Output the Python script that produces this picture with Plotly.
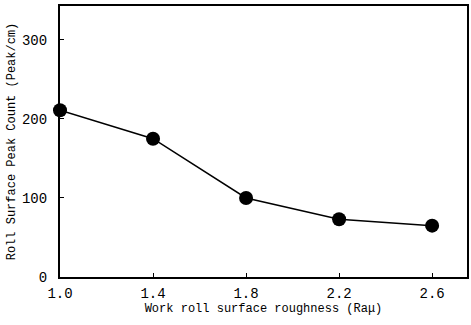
import plotly.graph_objects as go

roughness = [1.0, 1.4, 1.8, 2.2, 2.6]
peak_count = [211, 175, 100, 73, 65]
x_ticks = [1.0, 1.4, 1.8, 2.2, 2.6]
x_tick_labels = ["1.0", "1.4", "1.8", "2.2", "2.6"]
y_ticks = [0, 100, 200, 300]

fig = go.Figure()
fig.add_trace(go.Scatter(
    x=roughness, y=peak_count, mode="lines+markers",
    line=dict(color="black", width=1.5),
    marker=dict(color="black", size=14),
    cliponaxis=False,
))

font = "Liberation Mono, Courier New, monospace"
fig.update_layout(
    width=471, height=325,
    margin=dict(l=60, r=4, t=6, b=48),
    paper_bgcolor="white", plot_bgcolor="white",
    showlegend=False,
    font=dict(family=font, color="black", size=13),
    xaxis=dict(
        range=[1.0, 2.75], tickvals=x_ticks, ticktext=x_tick_labels,
        showgrid=False, zeroline=False, showline=True, linecolor="black",
        linewidth=2, mirror=True, ticks="inside", ticklen=4, tickcolor="black",
        tickfont=dict(size=14, family=font), ticklabelstandoff=2, automargin=False,
        title=dict(text="Work roll surface roughness (Raμ)", font=dict(size=12, family=font), standoff=0),
    ),
    yaxis=dict(
        range=[0, 343], tickvals=y_ticks,
        showgrid=False, zeroline=False, showline=True, linecolor="black",
        linewidth=2, mirror=True, ticks="inside", ticklen=4, tickcolor="black",
        tickfont=dict(size=14, family=font), ticklabelstandoff=8, automargin=False,
        title=dict(text="Roll Surface Peak Count (Peak/cm)", font=dict(size=12, family=font), standoff=4),
    ),
)
fig.write_html("out.html", config={"displayModeBar": False},
               post_script="document.body.style.margin='0';")
